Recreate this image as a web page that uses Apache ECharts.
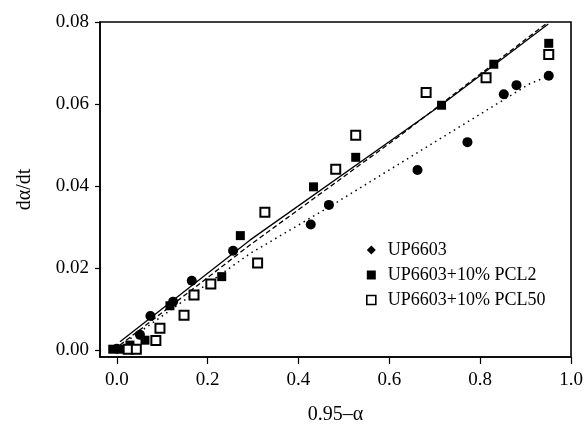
<!DOCTYPE html>
<html>
<head>
<meta charset="utf-8">
<script src="https://cdn.jsdelivr.net/npm/echarts@6/dist/echarts.min.js"></script>
<style>
  html, body { margin: 0; padding: 0; background: #fff; }
  #chart { width: 587px; height: 434px; }
</style>
</head>
<body>
<div id="chart"></div>
<script>
// tick positions
const xTicks = [0, 0.2, 0.4, 0.6, 0.8, 1.0];
const yTicks = [0, 0.02, 0.04, 0.06, 0.08];

// measured points [0.95-alpha, dalpha/dt]
const up6603 = [
  [0.000, 0.0003], [0.051, 0.0037], [0.074, 0.0083], [0.124, 0.0118],
  [0.165, 0.0169], [0.256, 0.0242], [0.427, 0.0306], [0.467, 0.0354],
  [0.662, 0.0439], [0.772, 0.0507], [0.852, 0.0624], [0.880, 0.0646],
  [0.951, 0.0669]
];
const pcl2 = [
  [-0.009, 0.0002], [0.010, 0.0002], [0.029, 0.0012], [0.062, 0.0024],
  [0.117, 0.0108], [0.231, 0.0179], [0.272, 0.0279], [0.433, 0.0398],
  [0.526, 0.0470], [0.715, 0.0597], [0.830, 0.0697], [0.951, 0.0748]
];
const pcl50 = [
  [0.025, 0.0002], [0.043, 0.0002], [0.086, 0.0023], [0.095, 0.0053],
  [0.148, 0.0085], [0.170, 0.0134], [0.207, 0.0161], [0.310, 0.0212],
  [0.326, 0.0336], [0.482, 0.0441], [0.526, 0.0524], [0.681, 0.0628],
  [0.813, 0.0664], [0.951, 0.0721]
];

// fitted lines
const fitPcl2 = [[0.007, 0.0020], [0.293, 0.0268], [0.715, 0.0598], [0.950, 0.0795]];
const fitPcl50 = [[0.007, 0.0012], [0.293, 0.0256], [0.620, 0.0520], [0.950, 0.0800]];
const fitUp = [[0.020, 0.0020], [0.293, 0.0235], [0.469, 0.0350], [0.660, 0.0480], [0.910, 0.0650], [0.950, 0.0668]];

const names = ["UP6603", "UP6603+10% PCL2", "UP6603+10% PCL50"];
const serif = "Liberation Serif";

const chart = echarts.init(document.getElementById("chart"));
chart.setOption({
  animation: false,
  grid: {
    left: 100, right: 16, top: 22, bottom: 77,
    show: true, borderColor: "#000", borderWidth: 1.6
  },
  legend: {
    orient: "vertical",
    left: 361, top: 236,
    itemWidth: 9, itemHeight: 9, itemGap: 7,
    textStyle: { fontFamily: serif, fontSize: 18, color: "#000", padding: [0, 0, 0, 7] },
    data: [
      { name: names[0], icon: "diamond" },
      { name: names[1], icon: "rect" },
      { name: names[2], icon: "rect", itemStyle: { borderWidth: 1.6 } }
    ]
  },
  xAxis: {
    type: "value", min: -0.037, max: 1.0,
    name: "0.95–α", nameLocation: "middle", nameGap: 48,
    nameTextStyle: { fontFamily: serif, fontSize: 20, color: "#000" },
    axisLine: { onZero: false, lineStyle: { color: "#000", width: 1.5 } },
    axisTick: { customValues: xTicks, length: 7, lineStyle: { color: "#000", width: 1.2 } },
    axisLabel: {
      customValues: xTicks, margin: 14,
      fontFamily: serif, fontSize: 19, color: "#000",
      formatter: (v) => v.toFixed(1)
    },
    splitLine: { show: false }
  },
  yAxis: {
    type: "value", min: -0.0017, max: 0.08,
    name: "dα/dt", nameLocation: "middle", nameGap: 65,
    nameTextStyle: { fontFamily: serif, fontSize: 20, color: "#000" },
    axisLine: { onZero: false, lineStyle: { color: "#000", width: 1.5 } },
    axisTick: { customValues: yTicks, length: 5, lineStyle: { color: "#000", width: 1.2 } },
    axisLabel: {
      customValues: yTicks, margin: 11,
      fontFamily: serif, fontSize: 19, color: "#000",
      formatter: (v) => v.toFixed(2)
    },
    splitLine: { show: false }
  },
  series: [
    {
      name: "fit " + names[1], type: "line", data: fitPcl2, symbol: "none",
      lineStyle: { color: "#000", width: 1.3, type: "solid" }, z: 1
    },
    {
      name: "fit " + names[2], type: "line", data: fitPcl50, symbol: "none",
      lineStyle: { color: "#000", width: 1.3, type: [5, 3] }, z: 1
    },
    {
      name: "fit " + names[0], type: "line", data: fitUp, symbol: "none",
      lineStyle: { color: "#000", width: 1.5, type: [1.5, 4] }, z: 1
    },
    {
      name: names[0], type: "scatter", data: up6603,
      symbol: "circle", symbolSize: 10,
      itemStyle: { color: "#000", opacity: 1 }, z: 3
    },
    {
      name: names[1], type: "scatter", data: pcl2,
      symbol: "rect", symbolSize: 9,
      itemStyle: { color: "#000", opacity: 1 }, z: 3
    },
    {
      name: names[2], type: "scatter", data: pcl50,
      symbol: "rect", symbolSize: 9,
      itemStyle: { color: "#fff", borderColor: "#000", borderWidth: 2, opacity: 1 }, z: 3
    }
  ]
});
</script>
</body>
</html>
